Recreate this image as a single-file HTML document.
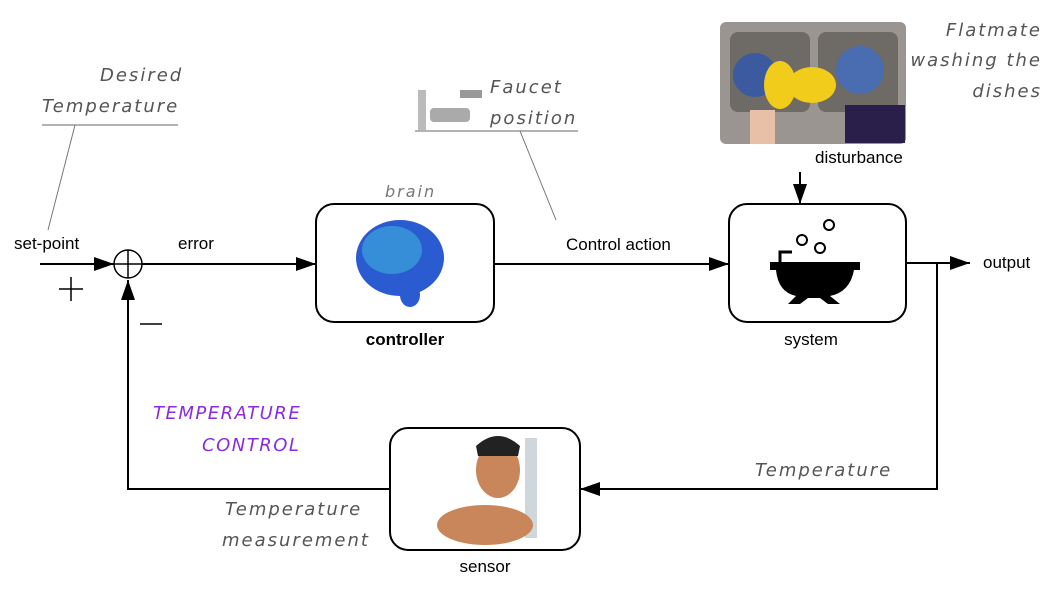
<!DOCTYPE html>
<html><head><meta charset="utf-8"><style>
html,body{margin:0;padding:0;background:#fff;}
svg{display:block;}
.t{font-family:"Liberation Sans",sans-serif;font-size:17px;fill:#000;}
.h{font-family:"DejaVu Sans","Liberation Sans",sans-serif;font-style:italic;font-size:18px;fill:#555;letter-spacing:2px;}
.p{font-family:"DejaVu Sans","Liberation Sans",sans-serif;font-style:italic;font-size:18px;fill:#8a2be2;letter-spacing:1.5px;}
</style></head><body>
<svg width="1058" height="595" viewBox="0 0 1058 595">
<defs>
<marker id="b" markerWidth="22" markerHeight="14" refX="20" refY="7" orient="auto" markerUnits="userSpaceOnUse"><path d="M0,0 L20,7 L0,14 Z" fill="#000"/></marker>
</defs>
<text class="h" x="100" y="81">Desired</text>
<text class="h" x="42" y="112">Temperature</text>
<line x1="42" y1="125" x2="178" y2="125" stroke="#666"/>
<line x1="75" y1="125" x2="48" y2="230" stroke="#777"/>
<rect x="418" y="90" width="8" height="40" fill="#bbb"/>
<rect x="430" y="108" width="40" height="14" rx="4" fill="#aaa"/>
<rect x="460" y="90" width="22" height="8" fill="#999"/>
<text class="h" x="490" y="93">Faucet</text>
<text class="h" x="490" y="124">position</text>
<line x1="415" y1="131" x2="578" y2="131" stroke="#666"/>
<line x1="520" y1="131" x2="556" y2="220" stroke="#777"/>
<text class="h" x="1042" y="36" text-anchor="end">Flatmate</text>
<text class="h" x="1042" y="66" text-anchor="end">washing the</text>
<text class="h" x="1042" y="97" text-anchor="end">dishes</text>
<rect x="720" y="22" width="186" height="122" rx="6" fill="#9a9590"/>
<rect x="730" y="32" width="80" height="80" rx="8" fill="#6e6a66"/>
<rect x="818" y="32" width="80" height="80" rx="8" fill="#6e6a66"/>
<circle cx="755" cy="75" r="22" fill="#3b5aa0"/>
<circle cx="860" cy="70" r="24" fill="#4a6cb0"/>
<ellipse cx="780" cy="85" rx="16" ry="24" fill="#f2cc1a"/>
<ellipse cx="812" cy="85" rx="24" ry="18" fill="#f2cc1a"/>
<rect x="845" y="105" width="60" height="38" fill="#2a1e4a"/>
<rect x="750" y="110" width="25" height="34" fill="#e8c0a8"/>
<text class="t" x="815" y="163">disturbance</text>
<line x1="800" y1="172" x2="800" y2="204" stroke="#000" stroke-width="2" marker-end="url(#b)"/>
<text class="t" x="14" y="249">set-point</text>
<line x1="40" y1="264" x2="114" y2="264" stroke="#000" stroke-width="2" marker-end="url(#b)"/>
<circle cx="128" cy="264" r="14" fill="#fff" stroke="#000" stroke-width="1.5"/>
<line x1="114" y1="264" x2="142" y2="264" stroke="#000" stroke-width="1.5"/>
<line x1="128" y1="250" x2="128" y2="278" stroke="#000" stroke-width="1.5"/>
<line x1="59" y1="289" x2="83" y2="289" stroke="#000" stroke-width="1.5"/>
<line x1="71" y1="277" x2="71" y2="301" stroke="#000" stroke-width="1.5"/>
<line x1="140" y1="324" x2="162" y2="324" stroke="#000" stroke-width="1.5"/>
<text class="t" x="178" y="249">error</text>
<line x1="142" y1="264" x2="316" y2="264" stroke="#000" stroke-width="2" marker-end="url(#b)"/>
<text class="h" x="385" y="197" style="font-size:16px;fill:#777">brain</text>
<rect x="316" y="204" width="178" height="118" rx="18" fill="#fff" stroke="#000" stroke-width="2"/>
<ellipse cx="400" cy="258" rx="44" ry="38" fill="#2a5bd0"/>
<ellipse cx="392" cy="250" rx="30" ry="24" fill="#3fb0e0" opacity=".6"/>
<ellipse cx="410" cy="295" rx="10" ry="12" fill="#2a5bd0"/>
<text class="t" x="405" y="345" text-anchor="middle" style="font-weight:bold">controller</text>
<text class="t" x="566" y="250">Control action</text>
<line x1="494" y1="264" x2="729" y2="264" stroke="#000" stroke-width="2" marker-end="url(#b)"/>
<rect x="729" y="204" width="177" height="118" rx="18" fill="#fff" stroke="#000" stroke-width="2"/>
<path d="M770,262 L860,262 L860,270 L854,270 Q850,292 830,296 L840,304 L828,304 L820,298 L808,298 L800,304 L788,304 L796,296 Q778,292 776,270 L770,270 Z" fill="#000"/>
<path d="M780,262 L780,252 L792,252" stroke="#000" stroke-width="3" fill="none"/>
<circle cx="829" cy="225" r="5" fill="#fff" stroke="#000" stroke-width="2"/>
<circle cx="802" cy="240" r="5" fill="#fff" stroke="#000" stroke-width="2"/>
<circle cx="820" cy="248" r="5" fill="#fff" stroke="#000" stroke-width="2"/>
<text class="t" x="811" y="345" text-anchor="middle">system</text>
<line x1="906" y1="263" x2="970" y2="263" stroke="#000" stroke-width="2" marker-end="url(#b)"/>
<text class="t" x="983" y="268">output</text>
<polyline points="937,263 937,489 580,489" fill="none" stroke="#000" stroke-width="2" marker-end="url(#b)"/>
<text class="h" x="755" y="476">Temperature</text>
<rect x="390" y="428" width="190" height="122" rx="18" fill="#fff" stroke="#000" stroke-width="2"/>
<rect x="525" y="438" width="12" height="100" fill="#cfd6dc"/>
<ellipse cx="498" cy="470" rx="22" ry="28" fill="#c8865a"/>
<path d="M476,446 Q498,426 520,446 L518,456 L478,456 Z" fill="#222"/>
<ellipse cx="485" cy="525" rx="48" ry="20" fill="#c8865a"/>
<polyline points="390,489 128,489 128,280" fill="none" stroke="#000" stroke-width="2" marker-end="url(#b)"/>
<text class="t" x="485" y="572" text-anchor="middle">sensor</text>
<text class="h" x="225" y="515">Temperature</text>
<text class="h" x="222" y="546">measurement</text>
<text class="p" x="153" y="419">TEMPERATURE</text>
<text class="p" x="202" y="451">CONTROL</text>
</svg>
</body></html>
